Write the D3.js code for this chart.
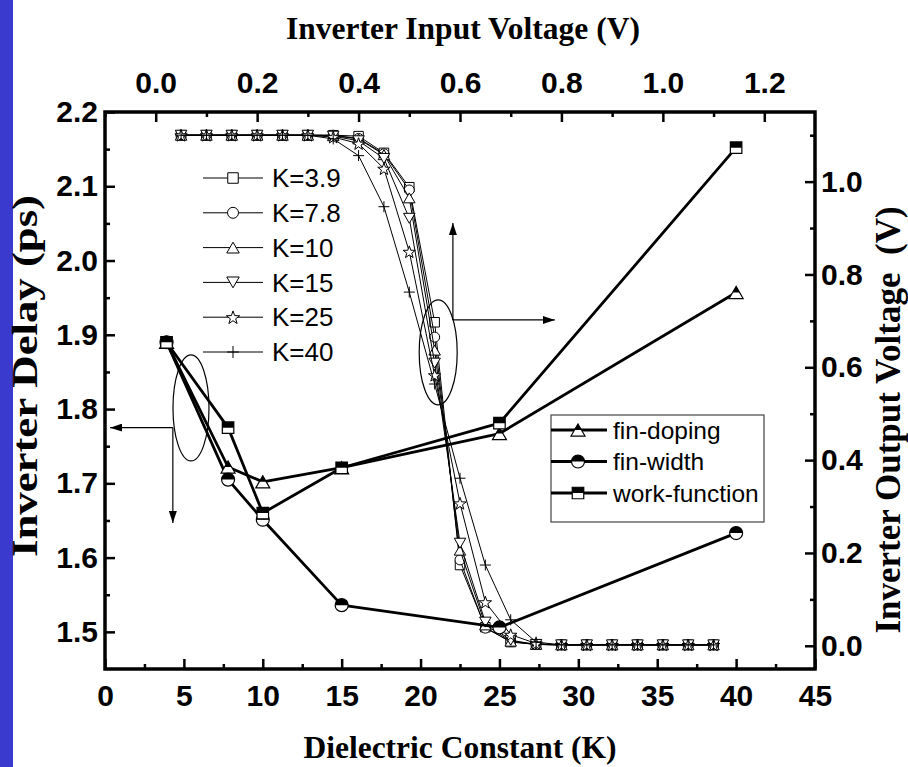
<!DOCTYPE html>
<html><head><meta charset="utf-8">
<script src="https://cdn.jsdelivr.net/npm/d3@7"></script>
<style>body{margin:0;background:#fff}svg{display:block}</style>
</head><body>
<svg id="c" width="908" height="767"></svg>
<script>
// ---------- data ----------
const kValues = [3.9, 7.8, 10, 15, 25, 40];
const delayFinDoping     = [1.890, 1.722, 1.702, 1.721, 1.767, 1.957];
const delayFinWidth      = [1.890, 1.705, 1.651, 1.536, 1.506, 1.633];
const delayWorkFunction  = [1.890, 1.775, 1.660, 1.721, 1.781, 2.152];
const delayNames = ["fin-doping", "fin-width", "work-function"];

const vin = [0.05,0.10,0.15,0.20,0.25,0.30,0.35,0.40,0.45,0.50,0.55,0.60,0.65,0.70,0.75,0.80,0.85,0.90,0.95,1.00,1.05,1.10];
const voutK3_9 = [1.10,1.10,1.10,1.10,1.10,1.10,1.100,1.098,1.062,0.988,0.697,0.174,0.040,0.008,0.003,0.002,0.002,0.002,0.002,0.002,0.002,0.002];
const voutK7_8 = [1.10,1.10,1.10,1.10,1.10,1.10,1.100,1.093,1.060,0.982,0.665,0.185,0.038,0.009,0.003,0.002,0.002,0.002,0.002,0.002,0.002,0.002];
const voutK10  = [1.10,1.10,1.10,1.10,1.10,1.10,1.099,1.092,1.058,0.965,0.637,0.206,0.045,0.010,0.003,0.002,0.002,0.002,0.002,0.002,0.002,0.002];
const voutK15  = [1.10,1.10,1.10,1.10,1.10,1.10,1.098,1.088,1.050,0.921,0.609,0.221,0.051,0.012,0.003,0.002,0.002,0.002,0.002,0.002,0.002,0.002];
const voutK25  = [1.10,1.10,1.10,1.10,1.10,1.10,1.096,1.082,1.028,0.849,0.583,0.307,0.094,0.024,0.005,0.002,0.002,0.002,0.002,0.002,0.002,0.002];
const voutK40  = [1.10,1.10,1.10,1.10,1.10,1.10,1.092,1.056,0.946,0.762,0.564,0.361,0.174,0.056,0.008,0.002,0.002,0.002,0.002,0.002,0.002,0.002];
const vtcNames = ["K=3.9", "K=7.8", "K=10", "K=15", "K=25", "K=40"];

const bottomTicks = [0,5,10,15,20,25,30,35,40,45];
const bottomMinor = [2.5,7.5,12.5,17.5,22.5,27.5,32.5,37.5,42.5];
const topTicks = [0.0,0.2,0.4,0.6,0.8,1.0,1.2];
const topMinor = [-0.1,0.1,0.3,0.5,0.7,0.9,1.1];
const leftTicks = [1.5,1.6,1.7,1.8,1.9,2.0,2.1,2.2];
const leftMinor = [1.55,1.65,1.75,1.85,1.95,2.05,2.15];
const rightTicks = [0.0,0.2,0.4,0.6,0.8,1.0];
const rightMinor = [0.1,0.3,0.5,0.7,0.9,1.1];

// annotation anchors in data units
const leftEllipse = {k: 5.45, d: 1.8015};
const leftArrow = {k0: 4.3, d0: 1.775, kTip: 0.32, dTip: 1.6466};
const midEllipse = {v: 0.557, o: 0.632};
const midArrow = {v0: 0.586, o0: 0.702, oTip: 0.911, vTip: 0.787};

// ---------- scales ----------
const L = 105, R = 815, T = 112, B = 669;
const x = d3.scaleLinear([0, 45], [L, R]);
const xTop = d3.scaleLinear([-0.1, 1.3], [L, R]);
const yL = d3.scaleLinear([1.45, 2.2], [B, T]);
const yR = d3.scaleLinear([-0.05, 1.15], [B, T]);

const svg = d3.select("#c");
svg.append("rect").attr("x",0).attr("y",0).attr("width",13).attr("height",767).attr("fill","#3a3acf");

const defs = svg.append("defs");
defs.append("clipPath").attr("id","topHalf").attr("clipPathUnits","objectBoundingBox")
  .append("rect").attr("x",-0.2).attr("y",-0.2).attr("width",1.4).attr("height",0.7);
const mk = defs.append("marker").attr("id","ah").attr("viewBox","0 0 12 8")
  .attr("refX",12).attr("refY",4).attr("markerWidth",12).attr("markerHeight",8)
  .attr("markerUnits","userSpaceOnUse").attr("orient","auto");
mk.append("path").attr("d","M0,0L12,4L0,8Z").attr("fill","#000");

// ---------- axes ----------
const tickFont = "bold 30px 'Liberation Sans', Arial, sans-serif";
function styleAxis(g, w) {
  g.select(".domain").remove();
  g.selectAll(".tick line").attr("stroke","#000").attr("stroke-width", w);
  g.selectAll(".tick text").style("font", tickFont).attr("fill","#000");
}
const f1 = d3.format(".1f");
svg.append("g").attr("transform",`translate(0,${B})`)
  .call(d3.axisBottom(x).tickValues(bottomTicks).tickSizeInner(-10).tickSizeOuter(0).tickPadding(16).tickFormat(d3.format("d")))
  .call(g=>styleAxis(g,2.5));
svg.append("g").attr("transform",`translate(0,${B})`)
  .call(d3.axisBottom(x).tickValues(bottomMinor).tickSizeInner(-5).tickSizeOuter(0).tickFormat(""))
  .call(g=>styleAxis(g,2.5));
svg.append("g").attr("transform",`translate(0,${T})`)
  .call(d3.axisTop(xTop).tickValues(topTicks).tickSizeInner(-10).tickSizeOuter(0).tickPadding(19).tickFormat(f1))
  .call(g=>styleAxis(g,2.5));
svg.append("g").attr("transform",`translate(0,${T})`)
  .call(d3.axisTop(xTop).tickValues(topMinor).tickSizeInner(-5).tickSizeOuter(0).tickFormat(""))
  .call(g=>styleAxis(g,2.5));
svg.append("g").attr("transform",`translate(${L},0)`)
  .call(d3.axisLeft(yL).tickValues(leftTicks).tickSizeInner(-10).tickSizeOuter(0).tickPadding(7).tickFormat(f1))
  .call(g=>styleAxis(g,2.5));
svg.append("g").attr("transform",`translate(${L},0)`)
  .call(d3.axisLeft(yL).tickValues(leftMinor).tickSizeInner(-5).tickSizeOuter(0).tickFormat(""))
  .call(g=>styleAxis(g,2.5));
svg.append("g").attr("transform",`translate(${R},0)`)
  .call(d3.axisRight(yR).tickValues(rightTicks).tickSizeInner(-10).tickSizeOuter(0).tickPadding(6).tickFormat(f1))
  .call(g=>styleAxis(g,2.5));
svg.append("g").attr("transform",`translate(${R},0)`)
  .call(d3.axisRight(yR).tickValues(rightMinor).tickSizeInner(-5).tickSizeOuter(0).tickFormat(""))
  .call(g=>styleAxis(g,2.5));
svg.append("rect").attr("x",L).attr("y",T).attr("width",R-L).attr("height",B-T)
  .attr("fill","none").attr("stroke","#000").attr("stroke-width",3.5);

// ---------- titles ----------
const titleFont = "bold 31.5px 'Liberation Serif', 'Times New Roman', serif";
svg.append("text").attr("x",(L+R)/2 + 3).attr("y",39).attr("text-anchor","middle").style("font",titleFont).text("Inverter Input Voltage (V)");
svg.append("text").attr("x",(L+R)/2).attr("y",758).attr("text-anchor","middle").style("font",titleFont).text("Dielectric Constant (K)");
svg.append("text").attr("transform",`translate(37,376) rotate(-90)`).attr("text-anchor","middle")
  .attr("textLength",362).attr("lengthAdjust","spacingAndGlyphs")
  .style("font","bold 36px 'Liberation Serif', 'Times New Roman', serif").text("Inverter Delay (ps)");
svg.append("text").attr("transform",`translate(900,420) rotate(-90)`).attr("text-anchor","middle")
  .style("font","bold 35px 'Liberation Serif', 'Times New Roman', serif").style("white-space","pre").text("Inverter Output Voltage  (V)");

// ---------- symbol paths ----------
function shape(type, s) {
  const h = s/2;
  switch(type) {
    case "square": return `M${-h},${-h}H${h}V${h}H${-h}Z`;
    case "circle": return `M${-h},0A${h},${h} 0 1,1 ${h},0A${h},${h} 0 1,1 ${-h},0Z`;
    case "tri": { const t = s*0.866/2; return `M0,${-t}L${h},${t}L${-h},${t}Z`; }
    case "tridown": { const t = s*0.866/2; return `M0,${t}L${h},${-t}L${-h},${-t}Z`; }
    case "star": {
      let p = ""; const ro = h, ri = h*0.4;
      for (let i=0;i<10;i++){ const r = i%2? ri: ro; const a = -Math.PI/2 + i*Math.PI/5;
        p += (i?"L":"M") + (r*Math.cos(a)).toFixed(2) + "," + (r*Math.sin(a)+h*0.1).toFixed(2); }
      return p + "Z"; }
    case "plus": return `M${-h},0H${h}M0,${-h}V${h}`;
  }
}

// ---------- VTC curves ----------
const vtcSeries = [voutK3_9, voutK7_8, voutK10, voutK15, voutK25, voutK40];
const vtcShapes = [["square",9.5],["circle",10],["tri",11.5],["tridown",11.5],["star",13],["plus",11]];
const vline = d3.line().x(d=>xTop(d[0])).y(d=>yR(d[1]));
const vtcG = svg.append("g");
vtcSeries.forEach((ser, si) => {
  const pts = vin.map((v,i)=>[v, ser[i]]);
  vtcG.append("path").attr("d", vline(pts)).attr("fill","none").attr("stroke","#000").attr("stroke-width",1);
  const [sh, sz] = vtcShapes[si];
  vtcG.selectAll(null).data(pts).join("path")
    .attr("transform", d=>`translate(${xTop(d[0])},${yR(d[1])})`)
    .attr("d", shape(sh, sz)).attr("fill", sh==="plus"?"none":"#fff").attr("stroke","#000").attr("stroke-width",1);
});

// ---------- delay curves ----------
const delaySeries = [delayFinDoping, delayFinWidth, delayWorkFunction];
const delayShapes = [["tri",14],["circle",13],["square",11.5]];
const dline = d3.line().x(d=>x(d[0])).y(d=>yL(d[1]));
function halfMarker(g, sh, sz, tx, ty) {
  const m = g.append("g").attr("transform",`translate(${tx},${ty})`);
  m.append("path").attr("d", shape(sh, sz)).attr("fill","#fff");
  m.append("path").attr("d", shape(sh, sz)).attr("fill","#000").attr("clip-path","url(#topHalf)");
  m.append("path").attr("d", shape(sh, sz)).attr("fill","none").attr("stroke","#000").attr("stroke-width",1.2);
}
const delG = svg.append("g");
delaySeries.forEach((ser, si) => {
  const pts = kValues.map((k,i)=>[k, ser[i]]);
  delG.append("path").attr("d", dline(pts)).attr("fill","none").attr("stroke","#000").attr("stroke-width",2.8).attr("stroke-linejoin","round");
});
delaySeries.forEach((ser, si) => {
  const [sh, sz] = delayShapes[si];
  kValues.forEach((k,i)=> halfMarker(delG, sh, sz, x(k), yL(ser[i])));
});

// ---------- annotations ----------
const an = svg.append("g").attr("fill","none").attr("stroke","#000").attr("stroke-width",1.2);
an.append("ellipse").attr("cx", x(leftEllipse.k)).attr("cy", yL(leftEllipse.d)).attr("rx",18).attr("ry",53);
an.append("line").attr("x1",x(leftArrow.k0)).attr("y1",yL(leftArrow.d0)).attr("x2",x(leftArrow.kTip)).attr("y2",yL(leftArrow.d0)).attr("marker-end","url(#ah)");
an.append("line").attr("x1",x(leftArrow.k0)).attr("y1",yL(leftArrow.d0)).attr("x2",x(leftArrow.k0)).attr("y2",yL(leftArrow.dTip)).attr("marker-end","url(#ah)");
an.append("ellipse").attr("cx", xTop(midEllipse.v)).attr("cy", yR(midEllipse.o)).attr("rx",19).attr("ry",52.5);
an.append("line").attr("x1",xTop(midArrow.v0)).attr("y1",yR(midArrow.o0)).attr("x2",xTop(midArrow.v0)).attr("y2",yR(midArrow.oTip)).attr("marker-end","url(#ah)");
an.append("line").attr("x1",xTop(midArrow.v0)).attr("y1",yR(midArrow.o0)).attr("x2",xTop(midArrow.vTip)).attr("y2",yR(midArrow.o0)).attr("marker-end","url(#ah)");

// ---------- legend 1 (VTC) ----------
const lg1 = svg.append("g");
vtcNames.forEach((nm, i) => {
  const yy = 178 + i*34.8;
  lg1.append("line").attr("x1",203).attr("x2",263).attr("y1",yy).attr("y2",yy).attr("stroke","#000").attr("stroke-width",1);
  const [sh, sz] = vtcShapes[i];
  lg1.append("path").attr("transform",`translate(233,${yy})`).attr("d", shape(sh, sz+1))
    .attr("fill", sh==="plus"?"none":"#fff").attr("stroke","#000").attr("stroke-width",1);
  lg1.append("text").attr("x",272).attr("y",yy).attr("dy","0.35em")
    .style("font","26px 'Liberation Sans', Arial, sans-serif").text(nm);
});

// ---------- legend 2 (delay) ----------
const lg2 = svg.append("g");
lg2.append("rect").attr("x",551).attr("y",415).attr("width",213).attr("height",107)
  .attr("fill","#fff").attr("stroke","#444").attr("stroke-width",1.2);
delayNames.forEach((nm, i) => {
  const yy = [430, 461.5, 493][i];
  lg2.append("line").attr("x1",551).attr("x2",607).attr("y1",yy).attr("y2",yy).attr("stroke","#000").attr("stroke-width",2.8);
  const [sh, sz] = delayShapes[i];
  halfMarker(lg2, sh, sz, 578, yy);
  lg2.append("text").attr("x",613).attr("y",yy).attr("dy","0.35em")
    .style("font","24.5px 'Liberation Sans', Arial, sans-serif").text(nm);
});
</script>
</body></html>
